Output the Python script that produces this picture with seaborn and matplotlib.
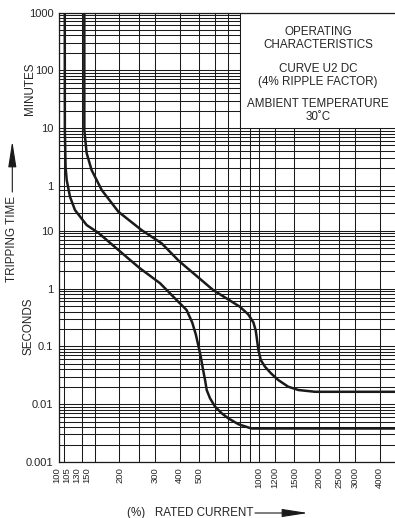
import matplotlib
matplotlib.use('Agg')
import matplotlib.pyplot as plt
import matplotlib.transforms as mtransforms
from matplotlib.patches import Rectangle
from matplotlib.ticker import NullFormatter
import seaborn as sns
import pandas as pd

# curve values (x in % rated current, y in seconds)
curve_a_pct = [106.5, 106.6, 107.5, 108.9, 113.1, 119.8, 137, 157, 221, 253, 319, 386, 433, 462, 482, 497, 510,
               524, 536, 546, 567, 601, 648, 700, 787, 915, 5000]
curve_a_sec = [60000, 555, 128, 75.7, 38.9, 22.9, 12.6, 9.2, 3.34, 2.25, 1.24, 0.635, 0.427, 0.26, 0.16, 0.1, 0.066,
               0.039, 0.026, 0.0176, 0.0127, 0.0091, 0.0070, 0.0057, 0.0045, 0.0038, 0.0038]

curve_b_pct = [133.4, 133.4, 137, 145, 163, 197.5, 258, 325, 397, 588, 800, 880, 935, 960, 975, 990, 1018, 1068,
               1144, 1245, 1395, 1571, 1900, 5000]
curve_b_sec = [60000, 555, 222, 113, 50.8, 21.4, 10.3, 6.08, 3.0, 0.946, 0.486, 0.36, 0.26, 0.19, 0.129, 0.087,
               0.058, 0.0446, 0.0343, 0.0262, 0.0201, 0.0176, 0.0164, 0.0164]

x_ticks = [100, 105, 130, 150, 200, 300, 400, 500, 1000, 1200, 1500, 2000, 2500, 3000, 4000, 5000]
x_minor = [250, 600, 700, 800, 900]

# y axis is seconds; the upper part is labelled in minutes
y_ticks = [60000, 6000, 600, 60, 10, 1, 0.1, 0.01, 0.001]
y_labels = ['1000', '100', '10', '1', '10', '1', '0.1', '0.01', '0.001']

sns.set_style('white')
plt.rcParams['font.family'] = ['Liberation Sans', 'DejaVu Sans']

y_minor = [k * 10.0 ** n for n in range(-3, 1) for k in range(2, 10)]
y_minor += [20, 30, 40, 50]
y_minor += [60 * k * 10.0 ** n for n in range(0, 3) for k in range(2, 10)]

fig = plt.figure(figsize=(3.95, 5.18), dpi=100)
ax = fig.add_axes([59.3 / 395, 1 - 462 / 518, (399 - 59.3) / 395, (462 - 12.5) / 518])

df_a = pd.DataFrame({'pct': curve_a_pct, 'sec': curve_a_sec})
df_b = pd.DataFrame({'pct': curve_b_pct, 'sec': curve_b_sec})
sns.lineplot(data=df_a, x='pct', y='sec', sort=False, estimator=None, color='#1a1a1a', lw=1.8, ax=ax, zorder=3)
sns.lineplot(data=df_b, x='pct', y='sec', sort=False, estimator=None, color='#1a1a1a', lw=1.8, ax=ax, zorder=3)

ax.set_xscale('log')
ax.set_yscale('log')
ax.set_xlim(100, 5000)
ax.set_ylim(0.001, 60000)

ax.set_xticks(x_ticks)
ax.set_xticklabels([str(v) for v in x_ticks], rotation=90, fontsize=6.8)
ax.set_xticks(x_minor, minor=True)
ax.set_yticks(y_ticks)
ax.set_yticklabels(y_labels, fontsize=8)
ax.set_yticks(y_minor, minor=True)
ax.xaxis.set_minor_formatter(NullFormatter())
ax.yaxis.set_minor_formatter(NullFormatter())
ax.tick_params(axis='both', which='both', length=0)
ax.tick_params(axis='y', pad=4.3)
ax.tick_params(axis='x', pad=3.6)
ax.set_xlabel('')
ax.set_ylabel('')

ax.set_axisbelow(True)
ax.grid(True, which='both', color='#1a1a1a', lw=0.75)
for s in ax.spines.values():
    s.set_color('#1a1a1a')
    s.set_linewidth(0.9)

# crowded low labels are shifted apart
shifts = {100: -2.5, 105: 3, 130: -5.5, 150: -8}
for val, lab in zip(x_ticks, ax.get_xticklabels()):
    if val in shifts:
        off = mtransforms.ScaledTranslation(shifts[val] / 100, 0, fig.dpi_scale_trans)
        lab.set_transform(lab.get_transform() + off)

# white panel holding the caption
ax.add_patch(Rectangle((800, 600), 5000 - 800, 60000 - 600, facecolor='white',
                       edgecolor='#1a1a1a', lw=0.75, zorder=1))

cx = 318 / 395
fig.text(cx, 1 - 38.3 / 518, 'OPERATING\nCHARACTERISTICS', ha='center', va='center', fontsize=8.4, linespacing=1.05)
fig.text(cx, 1 - 75.3 / 518, 'CURVE U2 DC\n(4% RIPPLE FACTOR)', ha='center', va='center', fontsize=8.4, linespacing=1.05)
fig.text(cx, 1 - 110.5 / 518, 'AMBIENT TEMPERATURE\n30˚C', ha='center', va='center', fontsize=8.4, linespacing=1.05)

fig.text(30 / 395, 1 - 89 / 518, 'MINUTES', rotation=90, ha='center', va='center', fontsize=8.4)
fig.text(28 / 395, 1 - 326 / 518, 'SECONDS', rotation=90, ha='center', va='center', fontsize=8.4)
fig.text(12.5 / 395, 1 - 239 / 518, 'TRIPPING TIME', rotation=90, ha='center', va='center', fontsize=8.4)
fig.text(126.7 / 395, 1 - 513 / 518, '(%)   RATED CURRENT', ha='left', va='center', fontsize=8.4)

ax.annotate('', xy=(12.3, 518 - 141), xytext=(12.3, 518 - 192), xycoords='figure pixels',
            textcoords='figure pixels',
            arrowprops=dict(arrowstyle='-|>,head_length=1.6,head_width=0.25', lw=0.8,
                            color='#1a1a1a', mutation_scale=10, shrinkA=0, shrinkB=0))
ax.annotate('', xy=(308, 518 - 513), xytext=(255, 518 - 513), xycoords='figure pixels',
            textcoords='figure pixels',
            arrowprops=dict(arrowstyle='-|>,head_length=1.6,head_width=0.25', lw=0.8,
                            color='#1a1a1a', mutation_scale=10, shrinkA=0, shrinkB=0))

fig.savefig('out.png', dpi=100)
